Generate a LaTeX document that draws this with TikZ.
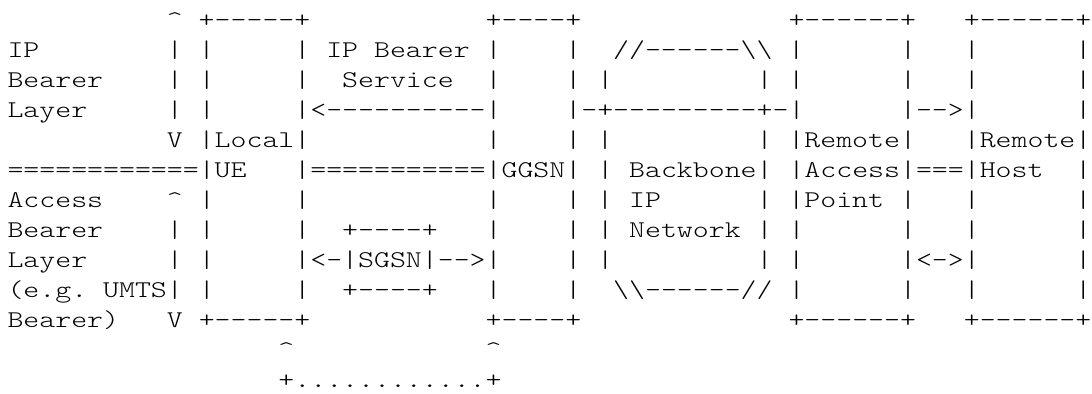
\documentclass[tikz,border=0pt]{standalone}
\usepackage{tikz}
\newcommand\gap[1]{\hspace*{#1\fontcharwd\font`\x}}
\newcommand\crt{\textasciicircum}
\newcommand\bsl{\textbackslash}
\tikzset{
  asciirow/.style={anchor=base west, inner sep=0pt, xscale=1.265, transform shape,
    font=\fontsize{12pt}{15pt}\ttfamily\fontseries{l}\selectfont\frenchspacing},
}
\begin{document}
\begin{tikzpicture}[x=0.5pt, y=0.5pt]
  \useasboundingbox (-7,0) rectangle (1085,-394);
  % one node per line of the figure, baselines 30px apart
  \node[asciirow] (row0) at (0,-28) {\gap{10}\crt\gap{1}+-----+\gap{11}+----+\gap{13}+------+\gap{3}+------+};
  \node[asciirow] (row1) at (0,-58) {IP\gap{8}|\gap{1}|\gap{5}|\gap{1}IP\gap{1}Bearer\gap{1}|\gap{4}|\gap{2}//------\bsl\bsl\gap{1}|\gap{6}|\gap{3}|\gap{6}|};
  \node[asciirow] (row2) at (0,-88) {Bearer\gap{4}|\gap{1}|\gap{5}|\gap{2}Service\gap{2}|\gap{4}|\gap{1}|\gap{9}|\gap{1}|\gap{6}|\gap{3}|\gap{6}|};
  \node[asciirow] (row3) at (0,-118) {Layer\gap{5}|\gap{1}|\gap{5}|<----------|\gap{4}|-+---------+-|\gap{6}|-->|\gap{6}|};
  \node[asciirow] (row4) at (0,-148) {\gap{10}V\gap{1}|Local|\gap{11}|\gap{4}|\gap{1}|\gap{9}|\gap{1}|Remote|\gap{3}|Remote|};
  \node[asciirow] (row5) at (0,-178) {============|UE\gap{3}|===========|GGSN|\gap{1}|\gap{1}Backbone|\gap{1}|Access|===|Host\gap{2}|};
  \node[asciirow] (row6) at (0,-208) {Access\gap{4}\crt\gap{1}|\gap{5}|\gap{11}|\gap{4}|\gap{1}|\gap{1}IP\gap{6}|\gap{1}|Point\gap{1}|\gap{3}|\gap{6}|};
  \node[asciirow] (row7) at (0,-238) {Bearer\gap{4}|\gap{1}|\gap{5}|\gap{2}+----+\gap{3}|\gap{4}|\gap{1}|\gap{1}Network\gap{1}|\gap{1}|\gap{6}|\gap{3}|\gap{6}|};
  \node[asciirow] (row8) at (0,-268) {Layer\gap{5}|\gap{1}|\gap{5}|<-|SGSN|-->|\gap{4}|\gap{1}|\gap{9}|\gap{1}|\gap{6}|<->|\gap{6}|};
  \node[asciirow] (row9) at (0,-298) {(e.g.\gap{1}UMTS|\gap{1}|\gap{5}|\gap{2}+----+\gap{3}|\gap{4}|\gap{2}\bsl\bsl------//\gap{1}|\gap{6}|\gap{3}|\gap{6}|};
  \node[asciirow] (row10) at (0,-328) {Bearer)\gap{3}V\gap{1}+-----+\gap{11}+----+\gap{13}+------+\gap{3}+------+};
  \node[asciirow] (row11) at (0,-358) {\gap{17}\crt\gap{12}\crt};
  \node[asciirow] (row12) at (0,-388) {\gap{17}+............+};
\end{tikzpicture}
\end{document}
